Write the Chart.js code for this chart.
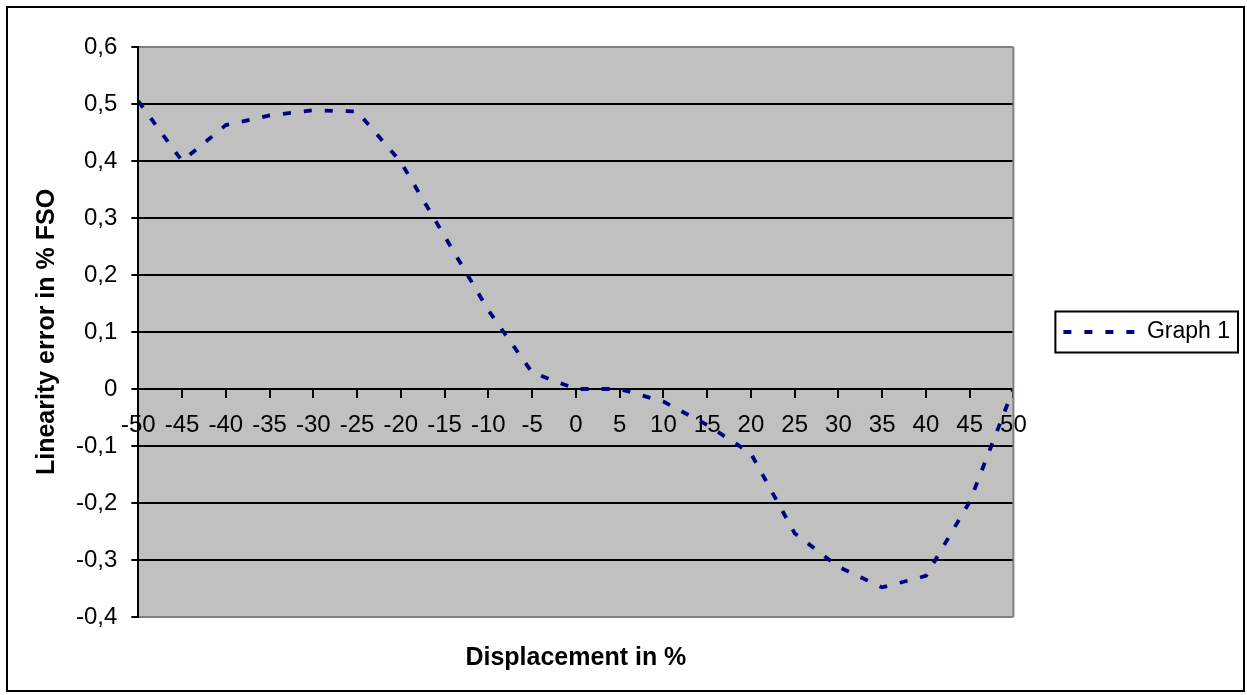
<!DOCTYPE html>
<html>
<head>
<meta charset="utf-8">
<title>Linearity error</title>
<script src="https://cdn.jsdelivr.net/npm/chart.js@4.4.1/dist/chart.umd.min.js"></script>
<style>
  html, body { margin: 0; padding: 0; background: #fff; overflow: hidden; }
  #wrap { position: absolute; left: 0; top: 0; width: 1247px; height: 695px; }
  #frame { position: absolute; left: 6px; top: 6px; width: 1239px; height: 686px;
           box-sizing: border-box; border: 2px solid #000; pointer-events: none; }
</style>
</head>
<body>
<div id="wrap"><canvas id="chart"></canvas></div>
<div id="frame"></div>
<script>
  // displacement in % (x) and linearity error in % FSO (y)
  var displacement = [-50, -45, -40, -35, -30, -25, -20, -15, -10, -5, 0, 5, 10, 15, 20, 25, 30, 35, 40, 45, 50];
  var linearityError = [0.505, 0.40, 0.463, 0.48, 0.489, 0.487, 0.398, 0.268, 0.138, 0.029, 0.0, 0.0,
                        -0.022, -0.063, -0.113, -0.253, -0.312, -0.348, -0.328, -0.198, 0.0];
  var seriesName = "Graph 1";
  var xTitle = "Displacement in %";
  var yTitle = "Linearity error in % FSO";

  var FONT = "'Liberation Sans', Arial, sans-serif";
  var LINE_DASH = [8, 13];
  var LINE_WIDTH = 3.8;

  // grey plot area, grey frame on the right
  var plotArea = {
    id: "plotArea",
    beforeDraw: function (chart) {
      var a = chart.chartArea, ctx = chart.ctx;
      ctx.save();
      ctx.fillStyle = "#c0c0c0";
      ctx.fillRect(a.left, a.top, a.right - a.left, a.bottom - a.top);
      ctx.restore();
    },
    afterDatasetsDraw: function (chart) {
      var a = chart.chartArea, ctx = chart.ctx;
      ctx.save();
      ctx.strokeStyle = "#808080";
      ctx.lineWidth = 2;
      ctx.beginPath();
      ctx.moveTo(a.right, a.top);
      ctx.lineTo(a.right, a.bottom);
      ctx.stroke();
      ctx.restore();
    }
  };

  // box around the legend entry
  var legendFrame = {
    id: "legendFrame",
    afterDraw: function (chart) {
      var hb = chart.legend && chart.legend.legendHitBoxes && chart.legend.legendHitBoxes[0];
      if (!hb) return;
      var ctx = chart.ctx;
      ctx.save();
      ctx.strokeStyle = "#000";
      ctx.lineWidth = 2;
      ctx.strokeRect(hb.left - 8, hb.top - 9, hb.width + 16, hb.height + 18);
      ctx.restore();
    }
  };

  function isEdge(v) {
    return Math.abs(v - 0.6) < 1e-6 || Math.abs(v + 0.4) < 1e-6;
  }

  new Chart(document.getElementById("chart").getContext("2d"), {
    type: "line",
    data: {
      datasets: [
        {
          label: seriesName,
          data: displacement.map(function (x, i) { return { x: x, y: linearityError[i] }; }),
          borderColor: "#000080",
          backgroundColor: "#000080",
          borderWidth: LINE_WIDTH,
          borderDash: LINE_DASH,
          tension: 0,
          pointRadius: 0,
          pointHoverRadius: 0,
          fill: false
        }
      ]
    },
    options: {
      responsive: true,
      maintainAspectRatio: false,
      animation: false,
      events: [],
      layout: { padding: { left: 15, top: 47, right: 7, bottom: 10 } },
      scales: {
        x: {
          type: "linear",
          position: { y: 0 },
          min: -50,
          max: 50,
          ticks: {
            stepSize: 5,
            color: "#000",
            padding: 14,
            maxRotation: 0,
            autoSkip: false,
            font: { family: FONT, size: 24 }
          },
          grid: { drawOnChartArea: false, drawTicks: true, tickLength: 8, color: "#000", lineWidth: 2 },
          border: { display: true, color: "#000", width: 2 }
        },
        y: {
          position: "left",
          min: -0.4,
          max: 0.6,
          ticks: {
            stepSize: 0.1,
            color: "#000",
            padding: 14,
            font: { family: FONT, size: 24 },
            callback: function (v) {
              if (Math.abs(v) < 1e-9) return "0";
              return v.toFixed(1).replace(".", ",");
            }
          },
          grid: {
            color: function (c) { return c.tick && isEdge(c.tick.value) ? "#808080" : "#000"; },
            lineWidth: 2,
            tickLength: 7,
            tickColor: "#000"
          },
          border: { display: true, color: "#000", width: 2 },
          title: {
            display: true,
            text: yTitle,
            color: "#000",
            font: { family: FONT, size: 25, weight: "bold" },
            padding: { top: 17, bottom: 0 }
          }
        }
      },
      plugins: {
        legend: {
          position: "right",
          fullSize: false,
          align: "center",
          labels: {
            usePointStyle: true,
            pointStyle: "line",
            pointStyleWidth: 72,
            padding: 50,
            color: "#000",
            font: { family: FONT, size: 23 },
            generateLabels: function (chart) {
              var items = Chart.defaults.plugins.legend.labels.generateLabels(chart);
              items.forEach(function (it) {
                it.lineDash = LINE_DASH;
                it.lineWidth = LINE_WIDTH;
                it.strokeStyle = "#000080";
              });
              return items;
            }
          }
        },
        title: {
          display: true,
          position: "bottom",
          fullSize: false,
          text: xTitle,
          color: "#000",
          font: { family: FONT, size: 25, weight: "bold" },
          padding: { top: 26, bottom: 12 }
        },
        tooltip: { enabled: false }
      }
    },
    plugins: [plotArea, legendFrame]
  });
</script>
</body>
</html>
